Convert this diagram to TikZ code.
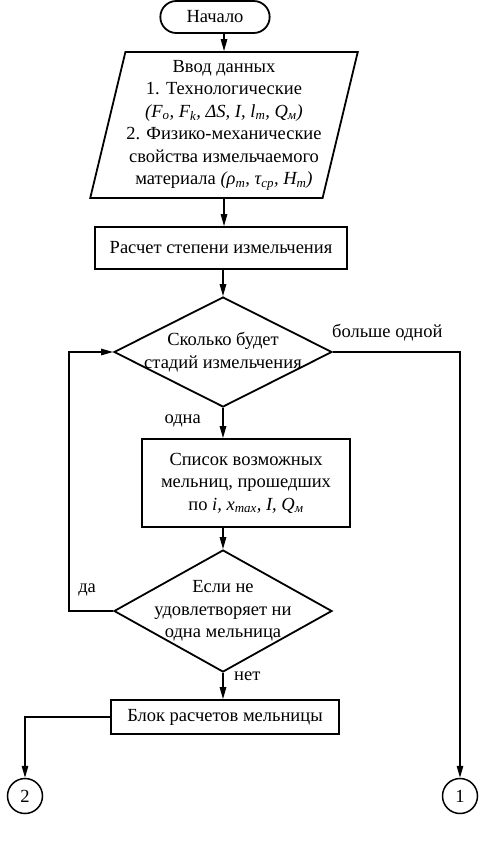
\documentclass[tikz,border=0pt]{standalone}
\usepackage{fontspec}
\setmainfont{Liberation Serif}
\usetikzlibrary{shapes.geometric,shapes.misc,arrows.meta}

\begin{document}
\begin{tikzpicture}[
  x=1pt, y=-1pt,
  every node/.style={font=\fontsize{18.5}{22.5}\selectfont, align=center},
  block/.style={rectangle, draw, line width=1.8pt, inner sep=0pt},
  decision/.style={diamond, draw, line width=1.8pt, inner sep=-24pt},
  lbl/.style={inner sep=2pt},
  conn/.style={circle, draw, line width=1.5pt, minimum size=35pt, inner sep=0pt},
  arr/.style={line width=1.4pt, -{Triangle[length=12pt,width=6.5pt]}},
  ln/.style={line width=1.4pt}
]
  \useasboundingbox (0,0) rectangle (482,841);

  \node[rounded rectangle, draw, line width=1.8pt, minimum width=116pt, minimum height=32pt] (start) at (215,17) {Начало};
  \node[trapezium, draw, line width=1.8pt, trapezium left angle=75, trapezium right angle=105,
        trapezium stretches=true, minimum width=268pt, minimum height=146pt, inner sep=0pt] (input) at (224,125)
    {Ввод данных\\ 1. Технологические\\
     {\itshape (F\textsubscript{o}, F\textsubscript{k}, ΔS, I, l\textsubscript{m}, Q\textsubscript{м})}\\
     2. Физико-механические\\ свойства измельчаемого\\
     материала {\itshape (ρ\textsubscript{m}, τ\textsubscript{ср}, H\textsubscript{m})}};
  \node[block, minimum width=252pt, minimum height=42pt] (degree) at (221,248) {Расчет степени измельчения};
  \node[decision, minimum width=218pt, minimum height=110pt] (stages) at (223,352) {Сколько будет\\ стадий измельчения};
  \node[block, minimum width=208pt, minimum height=88pt] (list) at (246,483)
    {Список возможных\\ мельниц, прошедших\\ по {\itshape i, x\textsubscript{max}, I, Q\textsubscript{м}}};
  \node[decision, minimum width=218pt, minimum height=122pt] (none) at (223,611) {Если не\\ удовлетворяет ни\\ одна мельница};
  \node[block, minimum width=228pt, minimum height=34pt] (calc) at (225,717) {Блок расчетов мельницы};
  \node[conn] (c2) at (25,796) {2};
  \node[conn] (c1) at (460,796) {1};

  % labels
  \node[lbl, anchor=west] (more) at ([shift={(-3pt,19pt)}]stages.east) {больше одной};
  \node[lbl, anchor=east] (one) at ([shift={(-20pt,-13pt)}]stages.south) {одна};
  \node[lbl, anchor=west] (yes) at ([shift={(-37pt,21pt)}]none.west) {да};
  \node[lbl, anchor=west] (no) at ([shift={(9pt,-3pt)}]none.south) {нет};

  \draw[arr] (start.south -| input.north) -- (input.north);
  \draw[arr] (input.south) -- (input.south |- degree.north);
  \draw[arr] (degree.south -| stages.north) -- (stages.north);
  \draw[arr] (stages.south) -- (stages.south |- list.north);
  \draw[arr] (none.north |- list.south) -- (none.north);
  \draw[arr] (none.south) -- (none.south |- calc.north);
  \draw[arr] (none.west) -- ++(-44,0) |- (stages.west);
  \draw[arr] (stages.east) -| (c1.north);
  \draw[arr] (calc.west) -| (c2.north);
\end{tikzpicture}
\end{document}
